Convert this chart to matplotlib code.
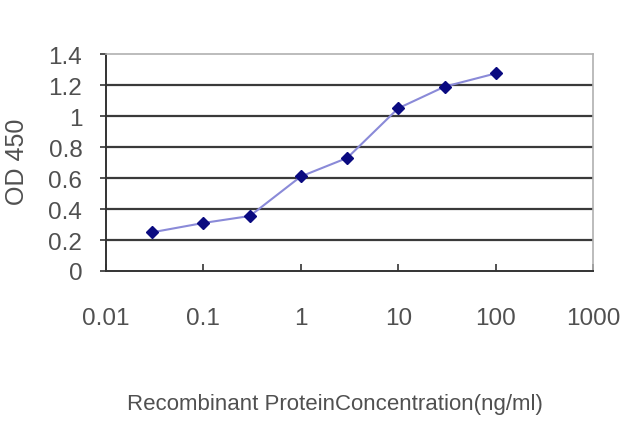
import matplotlib
matplotlib.use('Agg')
from matplotlib import pyplot as plt
from matplotlib.ticker import FixedLocator, FixedFormatter, NullLocator

# concentration (ng/ml) and OD 450 readings
concentration = [0.03, 0.1, 0.3, 1, 3, 10, 30, 100]
od450 = [0.25, 0.31, 0.355, 0.61, 0.73, 1.05, 1.19, 1.275]

x_ticks = [0.01, 0.1, 1, 10, 100, 1000]
x_tick_labels = ['0.01', '0.1', '1', '10', '100', '1000']
y_ticks = [0, 0.2, 0.4, 0.6, 0.8, 1.0, 1.2, 1.4]
y_tick_labels = ['0', '0.2', '0.4', '0.6', '0.8', '1', '1.2', '1.4']

plt.rcParams['font.family'] = ['Liberation Sans', 'DejaVu Sans']

fig = plt.figure(figsize=(6.4, 4.27), dpi=100)
ax = fig.add_axes([0.1656, 0.363, 0.761, 0.508])

for y in y_ticks[1:-1]:
    ax.axhline(y, color='#3a3a3a', lw=1.6, zorder=1)

ax.plot(concentration, od450, color='#8a8ad8', lw=1.5, zorder=2)
ax.plot(concentration, od450, linestyle='none', marker='D', markersize=6,
        color='#0a0a80', zorder=3)

ax.set_xscale('log')
ax.set_xlim(0.01, 1000)
ax.set_ylim(0, 1.4)

ax.xaxis.set_major_locator(FixedLocator(x_ticks))
ax.xaxis.set_major_formatter(FixedFormatter(x_tick_labels))
ax.xaxis.set_minor_locator(NullLocator())
ax.yaxis.set_major_locator(FixedLocator(y_ticks))
ax.yaxis.set_major_formatter(FixedFormatter(y_tick_labels))

ax.tick_params(axis='x', direction='in', length=5, width=1.2, color='#333333',
               pad=26, labelsize=17.5, labelcolor='#505050')
ax.tick_params(axis='y', direction='out', length=4, width=1.2, color='#333333',
               pad=13, labelsize=17.5, labelcolor='#505050')

for side in ['left', 'bottom']:
    ax.spines[side].set_color('#333333')
    ax.spines[side].set_linewidth(1.4)
for side in ['top', 'right']:
    ax.spines[side].set_color('#b0b0b0')
    ax.spines[side].set_linewidth(1.2)

fig.text(0.027, 0.62, 'OD 450', rotation=90, ha='center', va='center',
         fontsize=18, color='#505050')
fig.text(0.523, 0.052, 'Recombinant ProteinConcentration(ng/ml)', ha='center',
         va='center', fontsize=16, color='#505050')

fig.savefig('out.png', dpi=100)
